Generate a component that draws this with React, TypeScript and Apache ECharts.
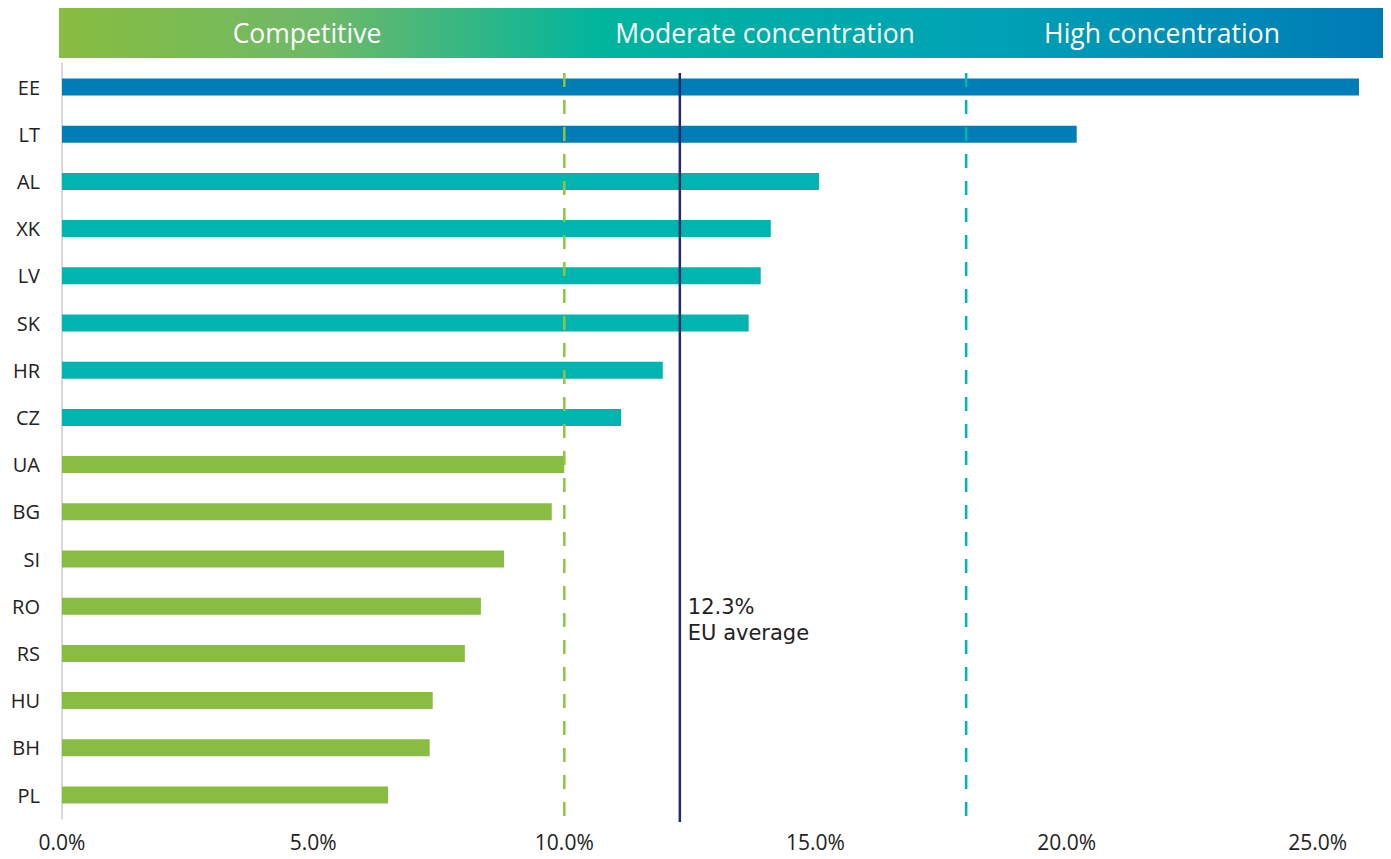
import React, { useEffect, useRef } from "react";
import * as echarts from "echarts";

const categories = ["EE", "LT", "AL", "XK", "LV", "SK", "HR", "CZ", "UA", "BG", "SI", "RO", "RS", "HU", "BH", "PL"];
const values = [25.82, 20.2, 15.07, 14.11, 13.91, 13.67, 11.96, 11.13, 10.0, 9.75, 8.8, 8.34, 8.02, 7.38, 7.32, 6.49];
const groups = ["high", "high", "mod", "mod", "mod", "mod", "mod", "mod", "comp", "comp", "comp", "comp", "comp", "comp", "comp", "comp"];
const xTicks = [0, 5, 10, 15, 20, 25];
const thresholds = [10, 18];
const euAverage = 12.3;
const bandLabels = ["Competitive", "Moderate concentration", "High concentration"];

const groupColors: Record<string, string> = {
  high: "#007CB6",
  mod: "#00B5B0",
  comp: "#89BC42",
};

export default function App() {
  const ref = useRef<HTMLDivElement>(null);
  useEffect(() => {
    if (!ref.current) return;
    const chart = echarts.init(ref.current, null, { renderer: "svg" });
    const font = "Open Sans";
    chart.setOption({
      animation: false,
      backgroundColor: "#ffffff",
      grid: { left: 62, right: 23, top: 63.4, bottom: 40.4, containLabel: false },
      xAxis: {
        type: "value",
        min: 0,
        max: 26,
        interval: 5,
        axisLine: { show: false },
        axisTick: { show: false },
        splitLine: { show: false },
        axisLabel: {
          margin: 13,
          color: "#222222",
          fontSize: 21,
          fontFamily: font,
          formatter: (v: number) => (xTicks.includes(v) ? v.toFixed(1) + "%" : ""),
        },
      },
      yAxis: {
        type: "category",
        data: categories,
        inverse: true,
        axisLine: { show: true, lineStyle: { color: "#d9d9d9", width: 2 } },
        axisTick: { show: false },
        axisLabel: { margin: 22, color: "#222222", fontSize: 20, fontFamily: font },
      },
      series: [
        {
          type: "bar",
          barWidth: 17,
          data: values.map((v, i) => ({ value: v, itemStyle: { color: groupColors[groups[i]] } })),
        },
      ],
    });

    const px = (v: number) => chart.convertToPixel({ xAxisIndex: 0 }, v) as number;
    const y1 = 73;
    const y2 = 822;
    const textStyle = (text: string, x: number) => ({
      type: "text",
      x,
      y: 33,
      style: {
        text,
        fill: "#ffffff",
        fontSize: 26.5,
        fontFamily: font,
        textAlign: "center",
        textVerticalAlign: "middle",
      },
      z: 2,
    });
    chart.setOption({
      graphic: [
        {
          type: "rect",
          shape: { x: 59, y: 8, width: 1324, height: 50 },
          style: {
            fill: new echarts.graphic.LinearGradient(0, 0, 1, 0, [
              { offset: 0, color: "#88BD3F" },
              { offset: 0.2, color: "#6DB968" },
              { offset: 0.41, color: "#00B59E" },
              { offset: 0.7, color: "#00A2B5" },
              { offset: 1, color: "#007BB6" },
            ]),
          },
          z: 1,
        },
        textStyle(bandLabels[0], 307),
        textStyle(bandLabels[1], 765),
        textStyle(bandLabels[2], 1162),
        {
          type: "line",
          shape: { x1: px(thresholds[0]), y1, x2: px(thresholds[0]), y2 },
          style: { stroke: "#8DC63F", lineWidth: 2.5, lineDash: [14, 13] },
          z: 10,
        },
        {
          type: "line",
          shape: { x1: px(thresholds[1]), y1, x2: px(thresholds[1]), y2 },
          style: { stroke: "#00B5B0", lineWidth: 2.5, lineDash: [14, 13] },
          z: 10,
        },
        {
          type: "line",
          shape: { x1: px(euAverage), y1, x2: px(euAverage), y2 },
          style: { stroke: "#1F2D6B", lineWidth: 2.5 },
          z: 10,
        },
        {
          type: "text",
          x: px(euAverage) + 8,
          y: 594,
          style: {
            text: euAverage.toFixed(1) + "%\nEU average",
            fill: "#222222",
            fontSize: 21,
            fontFamily: "DejaVu Sans",
            lineHeight: 26,
            textAlign: "left",
            textVerticalAlign: "top",
          },
          z: 10,
        },
      ],
    });
    return () => chart.dispose();
  }, []);
  return <div ref={ref} style={{ position: "fixed", left: 0, top: 0, width: 1391, height: 859 }} />;
}
